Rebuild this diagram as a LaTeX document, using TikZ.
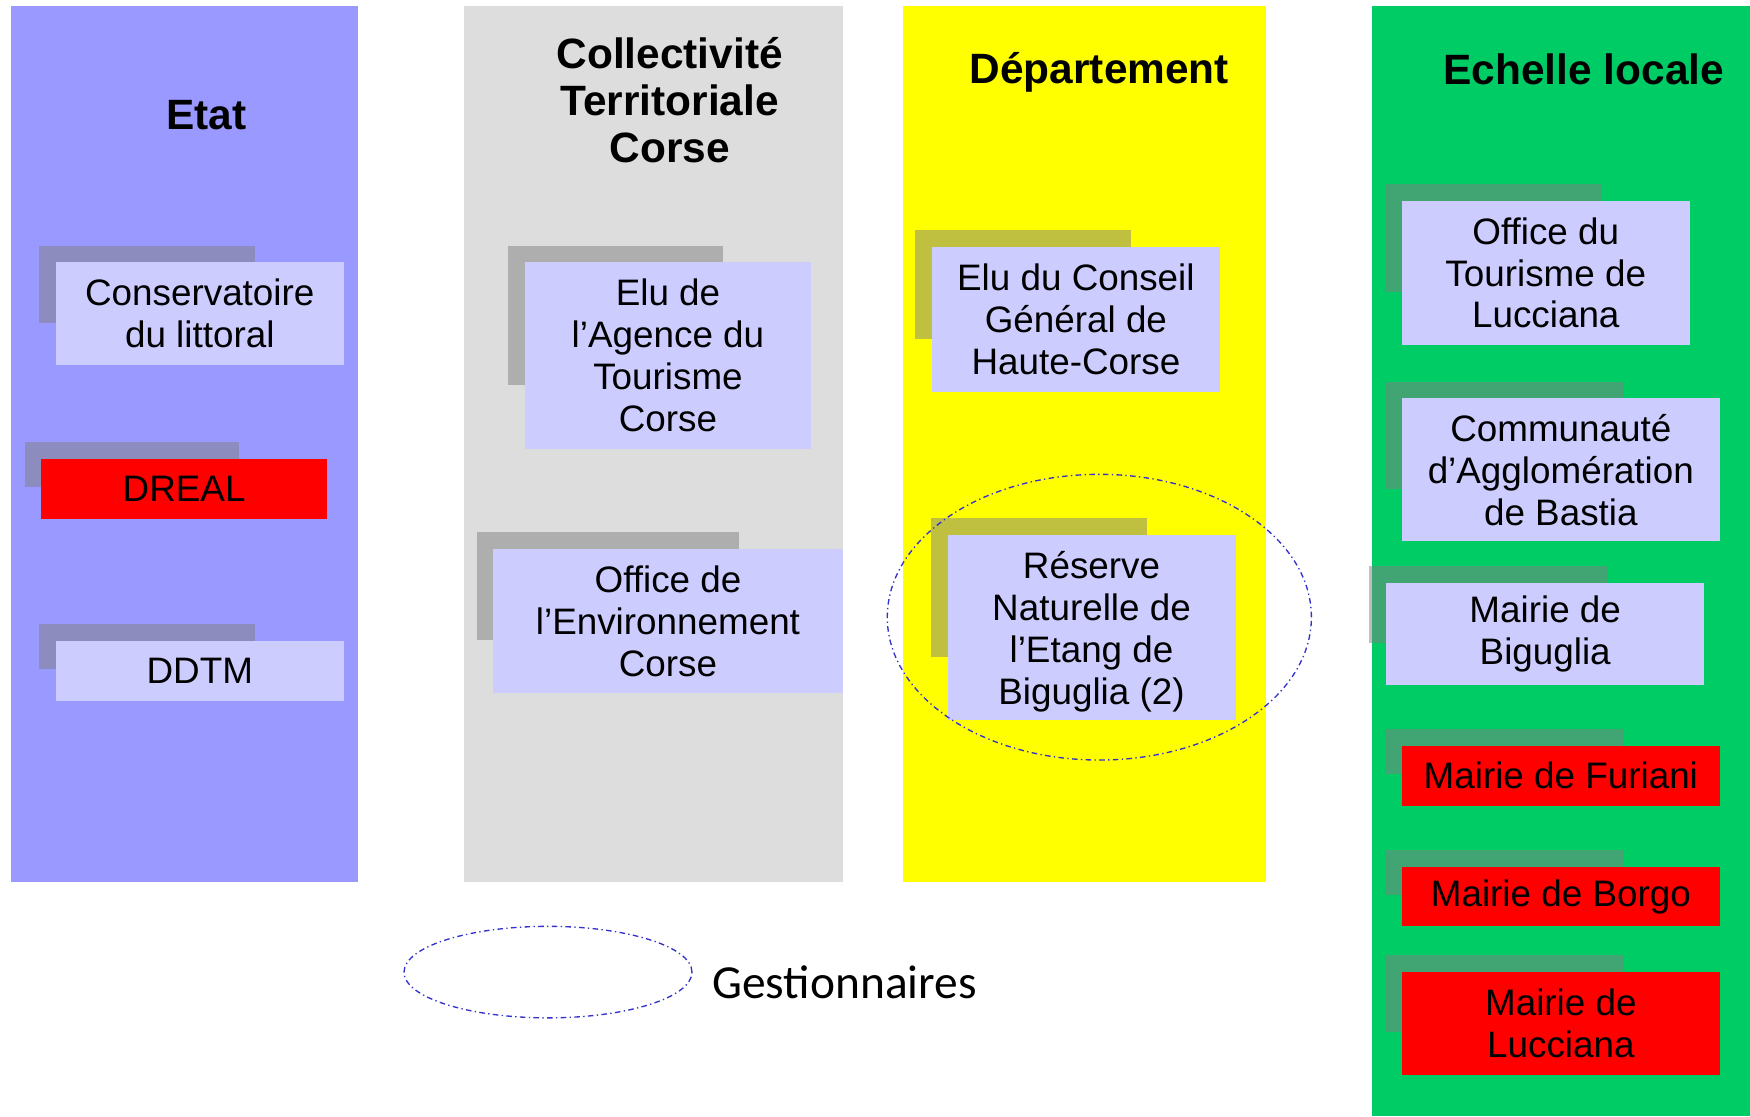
\documentclass[tikz,border=0pt]{standalone}
\usepackage{fontspec}
\setmainfont{Liberation Sans}
\newfontfamily\legendfont{Carlito}
\usetikzlibrary{shapes.geometric}
\definecolor{etatblue}{HTML}{9999FF}
\definecolor{ctcgray}{HTML}{DDDDDD}
\definecolor{deptyellow}{HTML}{FFFF00}
\definecolor{localgreen}{HTML}{00CC66}
\definecolor{boxlav}{HTML}{CCCCFF}
\definecolor{boxred}{HTML}{FF0000}
\definecolor{gestblue}{HTML}{3333CC}
\newcommand{\mkentry}[7]{%
  \fill[shadowfill] ({#2-15},{#3-15}) rectangle ({#2-15+0.75*(#4-#2)},{#3-15+0.75*(#5-#3)});
  \node[entry, fill=#6, minimum width={(#4-#2)*1pt}, minimum height={(#5-#3)*1pt}] (#1) at ({(#2+#4)/2},{(#3+#5)/2}) {#7};
}
\begin{document}
\begin{tikzpicture}[x=1pt,y=-1pt,
  shadowfill/.style={fill=gray, fill opacity=0.5},
  entry/.style={inner sep=0pt, align=center, text=black, font=\fontsize{33}{37.5}\selectfont},
  heading/.style={inner sep=0pt, align=center, font=\bfseries\fontsize{38}{42}\selectfont},
  gest/.style={draw=gestblue, line width=1.2pt, dash pattern=on 5pt off 3pt on 1.2pt off 3pt, ellipse, inner sep=0pt}]
\useasboundingbox (0,0) rectangle (1568,1000);
% columns
\fill[etatblue] (10,5) rectangle (321,790);
\fill[ctcgray] (416,5) rectangle (755,790);
\fill[deptyellow] (809,5) rectangle (1134,790);
\fill[localgreen] (1229,5) rectangle (1568,1000);
% headings
\node[heading] (hEtat) at (185,103) {Etat};
\node[heading] (hCTC) at (600,90) {Collectivité\\Territoriale\\Corse};
\node[heading] (hDep) at (985,65) {Département};
\node[heading] (hLoc) at (1419,62) {Echelle locale};
% Etat
\mkentry{cons}{50}{235}{308}{327}{boxlav}{Conservatoire\\du littoral}
\mkentry{dreal}{37}{411}{293}{465}{boxred}{DREAL}
\mkentry{ddtm}{50}{574}{308}{628}{boxlav}{DDTM}
% CTC
\mkentry{atc}{470}{235}{727}{402}{boxlav}{Elu de\\l’Agence du\\Tourisme\\Corse}
\mkentry{oec}{442}{492}{755}{621}{boxlav}{Office de\\l’Environnement\\Corse}
% Departement
\mkentry{cg}{835}{221}{1093}{351}{boxlav}{Elu du Conseil\\Général de\\Haute-Corse}
\fill[shadowfill] (834,464) rectangle (1028,589);
\node[entry, fill=boxlav, minimum width=258pt, minimum height=166pt] (rn) at (978,562) {};
\node[entry] (rnTxt) at (978,566) {Réserve\\Naturelle de\\l’Etang de\\Biguglia (2)};
% Echelle locale
\mkentry{otl}{1256}{180}{1514}{309}{boxlav}{Office du\\Tourisme de\\Lucciana}
\mkentry{cab}{1256}{357}{1541}{485}{boxlav}{Communauté\\d’Agglomération\\de Bastia}
\mkentry{mbig}{1242}{522}{1527}{614}{boxlav}{Mairie de\\Biguglia}
\mkentry{mfur}{1256}{668}{1541}{722}{boxred}{Mairie de Furiani}
\mkentry{mbor}{1256}{777}{1541}{830}{boxred}{Mairie de Borgo}
\mkentry{mluc}{1256}{871}{1541}{963}{boxred}{Mairie de\\Lucciana}
% gestionnaire ellipse
\node[gest, minimum width=380pt, minimum height=256pt] (gestRN) at (985,553) {};
% legend
\node[gest, minimum width=258pt, minimum height=82pt] (legEll) at (491,871) {};
\node[anchor=west, inner sep=0pt, font=\legendfont\fontsize{42.5}{50}\selectfont] (legTxt) at (638,880) {Gestionnaires};
\end{tikzpicture}
\end{document}
